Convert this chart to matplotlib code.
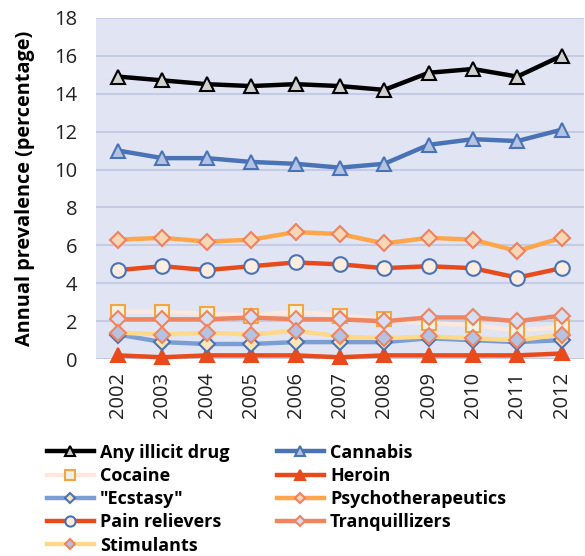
import matplotlib
matplotlib.use('Agg')
import matplotlib.pyplot as plt

plt.rcParams['font.family'] = ['Open Sans', 'DejaVu Sans']

years = ['2002','2003','2004','2005','2006','2007','2008','2009','2010','2011','2012']

any_illicit = [14.9, 14.7, 14.5, 14.4, 14.5, 14.4, 14.2, 15.1, 15.3, 14.9, 16.0]
cannabis = [11.0, 10.6, 10.6, 10.4, 10.3, 10.1, 10.3, 11.3, 11.6, 11.5, 12.1]
cocaine = [2.5, 2.5, 2.4, 2.3, 2.5, 2.3, 2.1, 1.9, 1.8, 1.5, 1.7]
heroin = [0.2, 0.1, 0.2, 0.2, 0.2, 0.1, 0.2, 0.2, 0.2, 0.2, 0.3]
ecstasy = [1.3, 0.9, 0.8, 0.8, 0.9, 0.9, 0.9, 1.1, 1.0, 0.9, 1.0]
psycho = [6.3, 6.4, 6.2, 6.3, 6.7, 6.6, 6.1, 6.4, 6.3, 5.7, 6.4]
pain = [4.7, 4.9, 4.7, 4.9, 5.1, 5.0, 4.8, 4.9, 4.8, 4.3, 4.8]
tranq = [2.1, 2.1, 2.1, 2.2, 2.1, 2.1, 2.0, 2.2, 2.2, 2.0, 2.3]
stimulants = [1.4, 1.3, 1.4, 1.3, 1.5, 1.2, 1.1, 1.2, 1.1, 1.0, 1.3]

# name, data, line colour, marker, marker fill, marker edge
series = [
  ('Any illicit drug', any_illicit, '#000000', '^', '#D0D0D0', '#000000'),
  ('Cannabis', cannabis, '#4A73B5', '^', '#B4C3E3', '#4A73B5'),
  ('Cocaine', cocaine, '#FCE8DE', 's', '#EEF2E2', '#F5A540'),
  ('Heroin', heroin, '#E84A1C', '^', '#E84A1C', '#E84A1C'),
  ('"Ecstasy"', ecstasy, '#7B9DD3', 'D', '#FCE6B5', '#4A73B5'),
  ('Psychotherapeutics', psycho, '#FFA54A', 'D', '#F5D6B5', '#F08060'),
  ('Pain relievers', pain, '#E84A1C', 'o', '#FDEDE0', '#4A73B5'),
  ('Tranquillizers', tranq, '#EE8460', 'D', '#D7DDF2', '#EE8460'),
  ('Stimulants', stimulants, '#FFD98A', 'D', '#B4C3E3', '#EE8460'),
]

fig = plt.figure(figsize=(5.85,5.56),dpi=100)
ax = fig.add_axes([0.164, 0.354, 0.834, 0.614])
ax.set_facecolor('#E1E5F3')

x = range(len(years))
draw_order = [2, 8, 4, 7, 3, 6, 5, 1, 0]
lines = {}
for i in draw_order:
  name, vals, lc, mk, mf, me = series[i]
  ms = 8 if mk == 'D' else 10.5
  l, = ax.plot(x, vals, color=lc, linewidth=3.2, marker=mk, markersize=ms,
               markerfacecolor=mf, markeredgecolor=me, markeredgewidth=1.5,
               label=name, zorder=3+i*0.1, clip_on=False)
  lines[i] = l

ax.set_ylim(0,18)
ax.set_yticks(range(0,19,2))
ax.set_xlim(-0.5, len(years)-0.5)
ax.set_xticks(list(x))
ax.set_xticklabels(years, rotation=90)
ax.tick_params(axis='both', length=0, labelsize=14.5, colors='#222222')
ax.tick_params(axis='x', pad=9)
ax.tick_params(axis='y', pad=13.5)
ax.grid(axis='y', color='#C3CBE5', linewidth=1.5)
ax.set_axisbelow(True)
for s in ax.spines.values():
  s.set_visible(False)
ax.set_ylabel('Annual prevalence (percentage)', fontsize=14.3, fontweight='bold', labelpad=14)

# legend fills column by column, so order entries to read row by row
leg_order = [0, 2, 4, 6, 8, 1, 3, 5, 7]
handles = [lines[i] for i in leg_order]
labels = [series[i][0] for i in leg_order]
leg = fig.legend(handles, labels, ncols=2, loc='upper left',
                 bbox_to_anchor=(0.068, 0.215), frameon=False,
                 prop={'weight':'bold', 'size':13}, handlelength=2.6,
                 columnspacing=2.6, handletextpad=0.35, labelspacing=0.29,
                 markerscale=0.7, borderaxespad=0)

fig.savefig('out.png', dpi=100)
